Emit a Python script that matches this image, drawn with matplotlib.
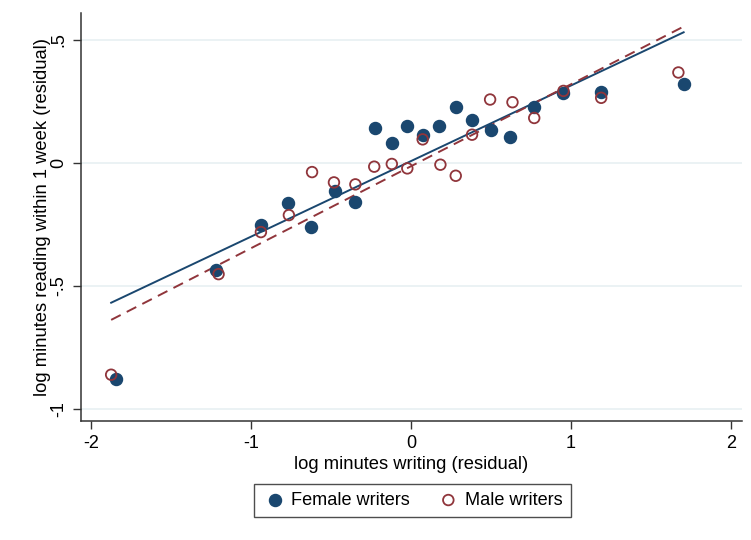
import numpy as np
import matplotlib
matplotlib.use("Agg")
import matplotlib.pyplot as plt

plt.rcParams['font.family'] = ['Liberation Sans', 'DejaVu Sans']
plt.rcParams['axes.unicode_minus'] = False

# binned residuals
female_x = [-1.844, -1.221, -0.942, -0.768, -0.626, -0.478, -0.349, -0.226, -0.121, -0.024,
            0.072, 0.174, 0.279, 0.379, 0.497, 0.620, 0.770, 0.950, 1.189, 1.705]
female_y = [-0.878, -0.434, -0.254, -0.162, -0.259, -0.114, -0.159, 0.141, 0.080, 0.152,
            0.114, 0.152, 0.227, 0.176, 0.136, 0.107, 0.227, 0.286, 0.288, 0.323]
male_x = [-1.877, -1.205, -0.940, -0.765, -0.620, -0.483, -0.349, -0.231, -0.121, -0.024,
          0.072, 0.183, 0.279, 0.381, 0.494, 0.634, 0.770, 0.953, 1.189, 1.672]
male_y = [-0.861, -0.452, -0.281, -0.212, -0.037, -0.079, -0.087, -0.015, -0.004, -0.022,
          0.096, -0.007, -0.052, 0.115, 0.258, 0.247, 0.183, 0.293, 0.265, 0.368]

# linear fits (slope, intercept) as shown in the chart
female_fit = (0.307, 0.008)
male_fit = (0.333, -0.013)

x_ticks = [-2, -1, 0, 1, 2]
y_ticks = [-1, -0.5, 0, 0.5]
y_tick_labels = ['-1', '-.5', '0', '.5']

navy = '#1a476f'
maroon = '#90353b'

fig = plt.figure(figsize=(7.51, 5.40), dpi=100)
ax = fig.add_axes([0.108, 0.220, 0.880, 0.756])

xmin = min(min(female_x), min(male_x))
fx = np.array([xmin, max(female_x)])
mx = np.array([xmin, max(male_x) + 0.02])

ax.scatter(female_x, female_y, s=75, color=navy, zorder=3, label='Female writers')
ax.scatter(male_x, male_y, s=58, facecolors='none', edgecolors=maroon, linewidths=1.3,
           zorder=3, label='Male writers')
ax.plot(fx, female_fit[0] * fx + female_fit[1], color=navy, lw=1.4, zorder=2)
ax.plot(mx, male_fit[0] * mx + male_fit[1], color=maroon, lw=1.4, ls=(0, (5.5, 3.5)), zorder=2)

ax.set_xlim(-2.065, 2.07)
ax.set_ylim(-1.05, 0.61)
ax.set_xticks(x_ticks)
ax.set_yticks(y_ticks)
ax.set_yticklabels(y_tick_labels, rotation=90, va='center')
ax.tick_params(axis='both', direction='out', length=6, width=1, color='#333333',
               labelsize=13, pad=4)

ax.grid(axis='y', color='#e8f0f2', lw=1.2)
ax.set_axisbelow(True)
for side in ['top', 'right']:
    ax.spines[side].set_visible(False)
for side in ['left', 'bottom']:
    ax.spines[side].set_color('#333333')
    ax.spines[side].set_linewidth(1.1)

ax.set_xlabel('log minutes writing (residual)', fontsize=13.2, labelpad=3)
ax.set_ylabel('log minutes reading within 1 week (residual)', fontsize=13.2, labelpad=-0.5)

leg = fig.legend(loc='center', bbox_to_anchor=(0.549, 0.0735), ncol=2, fontsize=13.1,
                 frameon=True, fancybox=False, edgecolor='#222222', columnspacing=1.4,
                 handletextpad=0.2, handlelength=1.4, borderpad=0.45)
leg.get_frame().set_linewidth(1.0)

fig.savefig('out.png', dpi=100)
